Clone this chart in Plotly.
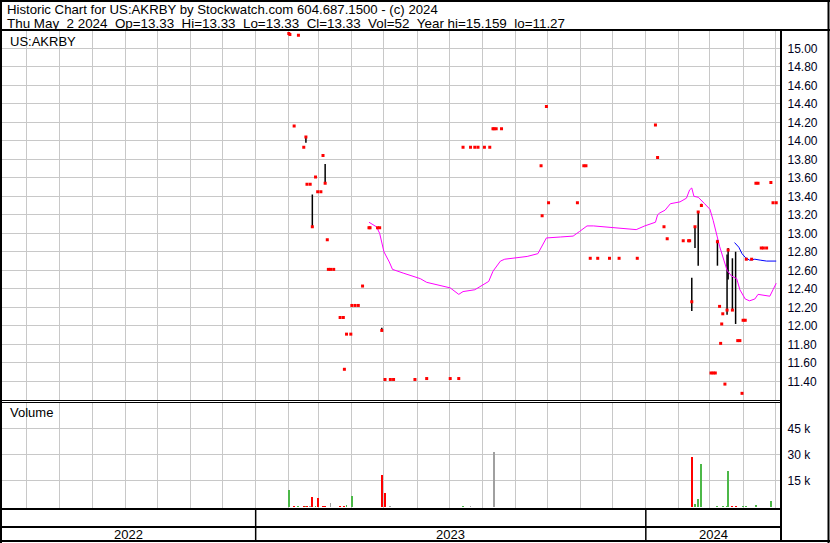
import plotly.graph_objects as go
from datetime import datetime

# ---------------- data ----------------
days = ["2023-02-01","2023-02-02","2023-02-06","2023-02-10","2023-02-15","2023-02-17","2023-02-18","2023-02-21",
        "2023-02-23","2023-02-26","2023-02-28","2023-03-03","2023-03-05","2023-03-07","2023-03-09","2023-03-10",
        "2023-03-12","2023-03-15","2023-03-21","2023-03-24","2023-03-25","2023-03-27","2023-03-31","2023-04-01",
        "2023-04-04","2023-04-07","2023-04-11","2023-04-17","2023-04-18","2023-04-25","2023-04-27","2023-04-29",
        "2023-05-02","2023-05-07","2023-05-10","2023-05-30","2023-06-10","2023-07-02","2023-07-10","2023-07-14",
        "2023-07-21","2023-07-25","2023-07-28","2023-08-03","2023-08-08","2023-08-11","2023-08-12","2023-08-14",
        "2023-08-19","2023-09-25","2023-09-26","2023-09-30","2023-10-02","2023-10-29","2023-11-04","2023-11-06",
        "2023-11-10","2023-11-17","2023-11-28","2023-12-07","2023-12-24","2024-01-10","2024-01-12","2024-01-18",
        "2024-01-21","2024-02-05","2024-02-10","2024-02-11","2024-02-13","2024-02-16","2024-02-19","2024-02-22",
        "2024-03-02","2024-03-04","2024-03-06","2024-03-08","2024-03-10","2024-03-11","2024-03-12","2024-03-13",
        "2024-03-15","2024-03-17","2024-03-18","2024-03-22","2024-03-25","2024-03-27","2024-03-29","2024-03-31",
        "2024-04-01","2024-04-03","2024-04-04","2024-04-09","2024-04-13","2024-04-15","2024-04-18","2024-04-20",
        "2024-04-23","2024-04-27","2024-04-29","2024-05-02"]
day_hi = [15.16,15.15,14.16,15.14,13.93,14.05,13.53,13.53,13.42,13.61,13.45,13.45,13.84,13.75,12.93,12.61,
          12.61,12.61,12.09,12.09,11.53,11.91,11.91,12.22,12.22,12.22,12.43,13.06,13.06,13.06,13.06,11.98,
          11.42,11.42,11.42,11.42,11.43,11.43,11.43,13.93,13.93,13.93,13.93,13.93,13.93,14.13,14.13,14.13,
          14.13,13.73,13.19,14.37,13.33,13.33,13.73,13.73,12.73,12.73,12.73,12.73,12.73,14.17,13.82,13.07,
          12.94,12.92,12.92,12.92,12.52,13.08,13.24,13.32,11.49,11.49,11.49,12.93,12.21,11.81,12.02,12.13,
          11.37,12.77,12.84,12.73,12.80,11.84,11.84,11.27,12.06,12.06,12.72,12.72,13.54,13.54,12.84,12.84,
          12.84,13.55,13.33,13.33]
day_lo = [15.16,15.15,14.16,15.14,13.93,13.98,13.53,13.53,13.07,13.61,13.45,13.45,13.84,13.54,12.93,12.61,
          12.61,12.61,12.09,12.09,11.53,11.91,11.91,12.22,12.22,12.22,12.43,13.06,13.06,13.06,13.06,11.95,
          11.42,11.42,11.42,11.42,11.43,11.43,11.43,13.93,13.93,13.93,13.93,13.93,13.93,14.13,14.13,14.13,
          14.13,13.73,13.19,14.37,13.33,13.33,13.73,13.73,12.73,12.73,12.73,12.73,12.73,14.17,13.82,13.07,
          12.94,12.92,12.92,12.92,12.16,12.84,12.65,13.30,11.49,11.49,11.49,12.65,12.21,11.81,12.02,12.13,
          11.37,12.12,12.50,12.17,12.02,11.84,11.84,11.27,12.06,12.06,12.72,12.72,13.54,13.54,12.84,12.84,
          12.84,13.55,13.33,13.33]
day_cl = [15.16,15.15,14.16,15.14,13.93,14.04,13.53,13.53,13.07,13.61,13.45,13.45,13.84,13.54,12.93,12.61,
          12.61,12.61,12.09,12.09,11.53,11.91,11.91,12.22,12.22,12.22,12.43,13.06,13.06,13.06,13.06,11.95,
          11.42,11.42,11.42,11.42,11.43,11.43,11.43,13.93,13.93,13.93,13.93,13.93,13.93,14.13,14.13,14.13,
          14.13,13.73,13.19,14.37,13.33,13.33,13.73,13.73,12.73,12.73,12.73,12.73,12.73,14.17,13.82,13.07,
          12.94,12.92,12.92,12.92,12.26,13.07,13.23,13.30,11.49,11.49,11.49,12.91,12.21,11.81,12.02,12.13,
          11.37,12.17,12.82,12.17,None,11.84,11.84,11.27,12.06,12.06,12.72,12.72,13.54,13.54,12.84,12.84,
          12.84,13.55,13.33,13.33]
day_vol = [9900,0,600,900,600,900,700,500,6000,700,5400,400,700,700,0,0,
           2600,400,500,0,900,1400,0,6500,400,400,400,0,400,400,0,18500,
           8200,700,400,400,400,400,400,800,700,400,400,400,400,400,31500,400,
           400,400,400,0,400,400,400,400,400,400,400,400,400,400,400,400,
           400,400,400,0,28700,2000,4800,24700,400,400,400,700,400,400,400,600,
           0,900,20700,600,600,400,400,0,500,400,500,400,1400,400,400,400,
           400,3700,400,52]
# 1 = up, -1 = down, 0 = unchanged
day_dir = [1,0,-1,1,-1,1,-1,0,-1,1,-1,0,-1,-1,0,0,
           0,0,-1,0,-1,1,0,1,0,0,1,0,0,0,0,-1,
           -1,0,0,0,0,0,0,1,0,0,0,0,0,1,0,0,
           0,-1,-1,0,-1,0,1,0,-1,0,0,0,0,1,-1,-1,
           -1,-1,0,0,-1,1,1,1,-1,0,0,1,-1,-1,1,1,
           0,1,1,-1,-1,0,1,0,1,0,1,0,1,0,-1,0,
           0,1,-1,0]

ma_long_dates = ["2023-04-17","2023-04-24","2023-04-27","2023-04-29","2023-05-01","2023-05-06","2023-05-09",
                 "2023-05-19","2023-05-28","2023-06-04","2023-06-10","2023-06-25","2023-07-02","2023-07-10",
                 "2023-07-14","2023-07-25","2023-08-07","2023-08-11","2023-08-18","2023-08-22","2023-09-02",
                 "2023-09-12","2023-09-22","2023-09-26","2023-09-30","2023-10-13","2023-10-25","2023-10-31",
                 "2023-11-07","2023-11-13","2023-11-22","2023-12-02","2023-12-14","2023-12-23","2023-12-31",
                 "2024-01-10","2024-01-12","2024-01-14","2024-01-19","2024-01-24","2024-02-02","2024-02-08",
                 "2024-02-11","2024-02-13","2024-02-15","2024-02-19","2024-02-25","2024-03-01","2024-03-04",
                 "2024-03-07","2024-03-10","2024-03-14","2024-03-17","2024-03-21","2024-03-26","2024-03-29",
                 "2024-04-03","2024-04-07","2024-04-12","2024-04-15","2024-04-21","2024-04-26","2024-04-29",
                 "2024-05-02"]
ma_long_vals = [13.12,13.07,13.00,12.89,12.80,12.69,12.61,12.57,12.54,12.51,12.47,12.43,12.41,12.34,
                12.37,12.39,12.48,12.59,12.70,12.72,12.74,12.75,12.78,12.86,12.95,12.96,12.97,13.02,
                13.08,13.08,13.07,13.06,13.05,13.04,13.08,13.12,13.20,13.22,13.25,13.32,13.34,13.38,
                13.47,13.49,13.40,13.39,13.32,13.26,13.14,13.00,12.86,12.71,12.60,12.54,12.51,12.39,
                12.29,12.27,12.29,12.34,12.33,12.32,12.39,12.46]

ma_short_dates = ["2024-03-24","2024-03-28","2024-03-31","2024-04-03","2024-04-07","2024-04-12","2024-04-17",
                  "2024-04-23","2024-05-02"]
ma_short_vals = [12.90,12.85,12.78,12.74,12.71,12.72,12.71,12.70,12.70]

price_tick_vals = [11.40,11.60,11.80,12.00,12.20,12.40,12.60,12.80,13.00,13.20,13.40,13.60,13.80,
                   14.00,14.20,14.40,14.60,14.80,15.00]
vol_tick_vals = [15000, 30000, 45000]
vol_tick_text = ["15 k", "30 k", "45 k"]
years = [2022, 2023, 2024]

header_1 = "Historic Chart for US:AKRBY by Stockwatch.com 604.687.1500 - (c) 2024"
header_2 = ("Thu May\u00a0\u00a02 2024\u00a0\u00a0Op=13.33\u00a0\u00a0Hi=13.33\u00a0\u00a0Lo=13.33\u00a0\u00a0"
            "Cl=13.33\u00a0\u00a0Vol=52\u00a0\u00a0Year hi=15.159\u00a0\u00a0lo=11.27")
symbol_label = "US:AKRBY"
volume_label = "Volume"

# ---------------- layout helpers ----------------
W, H = 830, 543
def px(x):
    return x / W
def py(y):
    return 1 - y / H

FONT = "Liberation Sans, Arial, sans-serif"
GRID = "#c8c8c8"
x_start = datetime(2022, 5, 8, 5, 0)
x_end = datetime(2024, 5, 6, 0, 0)

fig = go.Figure()

# high-low bars
bx, by = [], []
for d, h, l in zip(days, day_hi, day_lo):
    if h != l:
        bx += [d, d, None]
        by += [h, l, None]
fig.add_trace(go.Scatter(x=bx, y=by, mode="lines", line=dict(color="black", width=1.5),
                         xaxis="x", yaxis="y", hoverinfo="skip"))

# moving averages
fig.add_trace(go.Scatter(x=ma_long_dates, y=ma_long_vals, mode="lines",
                         line=dict(color="#ff00ff", width=1), xaxis="x", yaxis="y"))
fig.add_trace(go.Scatter(x=ma_short_dates, y=ma_short_vals, mode="lines",
                         line=dict(color="#0000ff", width=1), xaxis="x", yaxis="y"))

# closes
fig.add_trace(go.Scatter(x=days, y=day_cl, mode="markers",
                         marker=dict(symbol="square", size=3, color="#ff0000", line=dict(width=0)),
                         xaxis="x", yaxis="y"))

# volume
dir_color = {1: "#4cb848", -1: "#ff0000", 0: "#a0a0a0"}
fig.add_trace(go.Bar(x=days, y=day_vol, marker=dict(color=[dir_color[v] for v in day_dir], line=dict(width=0)),
                     width=1.8 * 86400000, xaxis="x2", yaxis="y2"))

xdom = [px(1.5), px(780.5)]
xcommon = dict(type="date", range=[x_start, x_end], domain=xdom, showticklabels=False, ticks="",
               showgrid=True, gridcolor=GRID, gridwidth=1, dtick="M1", tick0="2022-06-01",
               zeroline=False, showline=False, fixedrange=True)

fig.update_layout(
    width=W, height=H, margin=dict(l=0, r=0, t=0, b=0),
    paper_bgcolor="white", plot_bgcolor="white", showlegend=False,
    hovermode=False, bargap=0,
    xaxis=dict(anchor="y", **xcommon),
    xaxis2=dict(anchor="y2", matches="x", **xcommon),
    yaxis=dict(domain=[py(400), py(30)], range=[11.198, 15.198], side="right", anchor="x",
               tickvals=price_tick_vals, tickformat=".2f", ticks="", ticklabelstandoff=6,
               showgrid=True, gridcolor=GRID, gridwidth=1, zeroline=False, showline=False,
               tickfont=dict(family=FONT, size=12, color="#000020"), fixedrange=True),
    yaxis2=dict(domain=[py(509.5), py(401.7)], range=[-1253, 60150], side="right", anchor="x2",
                tickvals=vol_tick_vals, ticktext=vol_tick_text, ticks="", ticklabelstandoff=6,
                showgrid=True, gridcolor=GRID, gridwidth=1, zeroline=False, showline=False,
                tickfont=dict(family=FONT, size=12, color="#000020"), fixedrange=True),
)

shapes = []
def hline(y, x0, x1, w):
    shapes.append(dict(type="line", xref="paper", yref="paper", x0=px(x0), x1=px(x1), y0=py(y), y1=py(y),
                       line=dict(color="black", width=w)))
def vline(x, y0, y1, w):
    shapes.append(dict(type="line", xref="paper", yref="paper", x0=px(x), x1=px(x), y0=py(y0), y1=py(y1),
                       line=dict(color="black", width=w)))

hline(1, 0, 830, 2)            # top border
hline(541, 0, 830, 2)          # bottom border
vline(1, 0, 543, 2)            # left border
vline(828.5, 0, 543, 2)        # right border
hline(30, 0, 830, 2)           # top of price panel
vline(781, 30, 541, 2)         # right edge of plots
hline(400.5, 0, 781, 1)        # bottom of price panel
hline(402.5, 0, 781, 1)        # top of volume panel
hline(509, 0, 781, 2)          # bottom of volume panel
hline(527, 0, 781, 2)          # between date rows
for yr in years[1:]:
    shapes.append(dict(type="line", xref="x", yref="paper", x0=f"{yr}-01-01", x1=f"{yr}-01-01",
                       y0=py(509), y1=py(541), line=dict(color="black", width=1.5)))

annotations = [
    dict(text=header_1, x=px(5), y=py(9.5), xref="paper", yref="paper", xanchor="left", yanchor="middle",
         showarrow=False, font=dict(family=FONT, size=13.2, color="black")),
    dict(text=header_2, x=px(5), y=py(23.5), xref="paper", yref="paper", xanchor="left", yanchor="middle",
         showarrow=False, font=dict(family=FONT, size=13.4, color="black")),
    dict(text=symbol_label, x=px(8), y=py(41.5), xref="paper", yref="paper", xanchor="left", yanchor="middle",
         showarrow=False, font=dict(family=FONT, size=13, color="black")),
    dict(text=volume_label, x=px(8), y=py(413), xref="paper", yref="paper", xanchor="left", yanchor="middle",
         showarrow=False, font=dict(family=FONT, size=13, color="black")),
]
for yr in years:
    s = max(datetime(yr, 1, 1), x_start)
    e = min(datetime(yr + 1, 1, 1), x_end)
    mid = s + (e - s) / 2
    annotations.append(dict(text=str(yr), x=mid, y=py(534.5), xref="x", yref="paper", xanchor="center",
                            yanchor="middle", showarrow=False, font=dict(family=FONT, size=13, color="black")))

fig.update_layout(shapes=shapes, annotations=annotations)
fig.write_html("out.html", config=dict(displayModeBar=False, staticPlot=True),
               post_script="document.body.style.margin='0px';document.body.style.padding='0px';"
                           "document.documentElement.style.overflow='hidden';")
